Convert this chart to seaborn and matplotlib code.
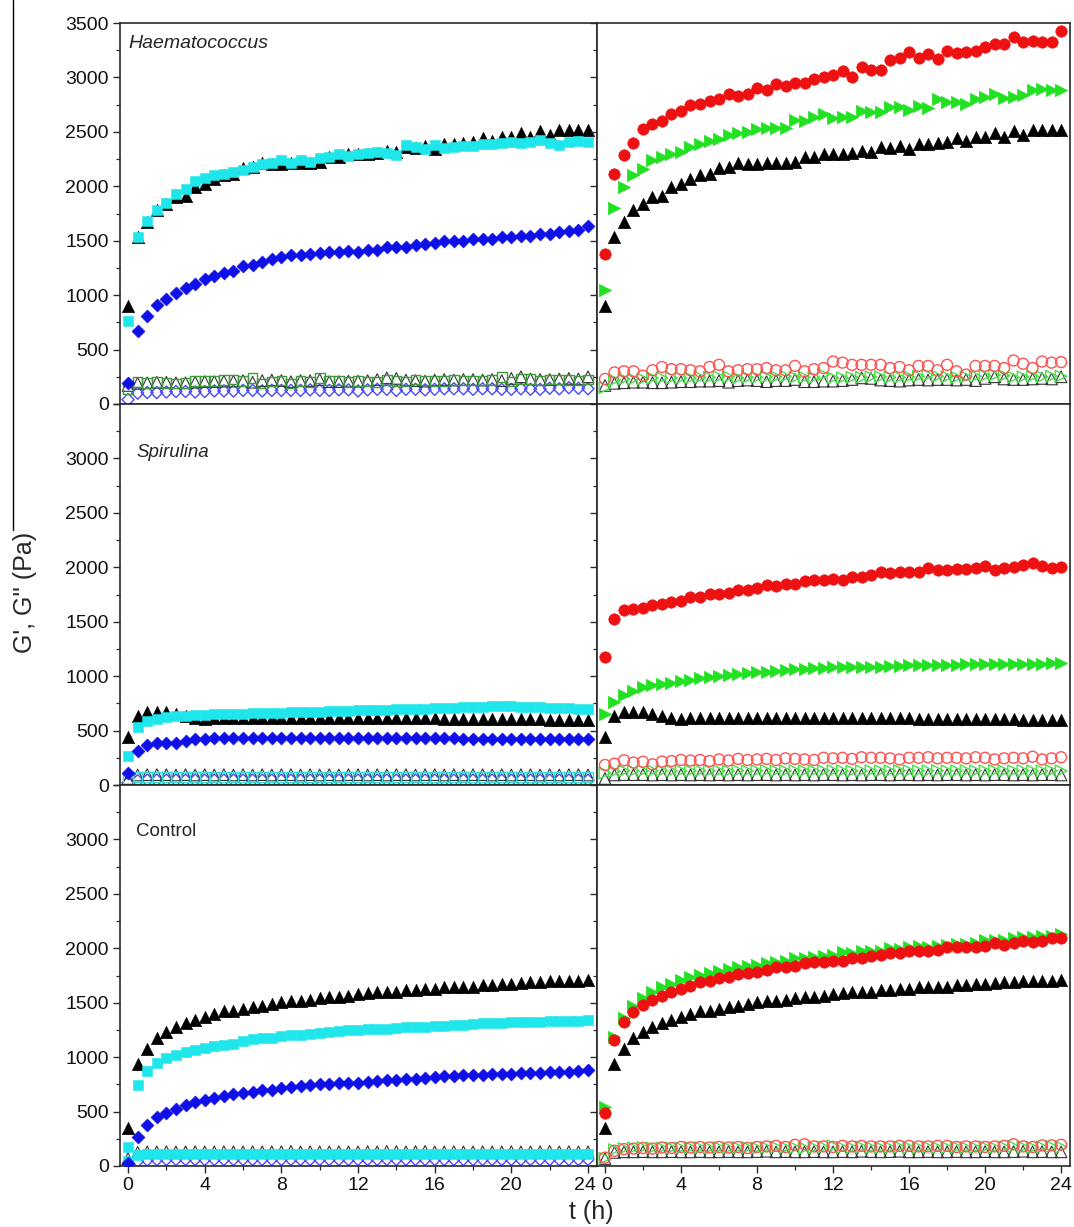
import matplotlib
matplotlib.use("Agg")
import numpy as np
import pandas as pd
import seaborn as sns
import matplotlib.pyplot as plt
from matplotlib.ticker import MultipleLocator
from matplotlib.lines import Line2D
from matplotlib.transforms import ScaledTranslation

# ---------------- data ----------------
t_h = [0, 0.5, 1, 1.5, 2, 2.5, 3, 3.5, 4, 4.5, 5, 5.5, 6, 6.5, 7, 7.5, 8, 8.5, 9, 9.5,
       10, 10.5, 11, 11.5, 12, 12.5, 13, 13.5, 14, 14.5, 15, 15.5, 16, 16.5, 17, 17.5,
       18, 18.5, 19, 19.5, 20, 20.5, 21, 21.5, 22, 22.5, 23, 23.5, 24]

x_ticks = [0, 4, 8, 12, 16, 20, 24]
panel_labels = ["Haematococcus", "Spirulina", "Control"]

# Haematococcus row
haem_black_Gp = [900, 1530, 1670, 1780, 1840, 1900, 1915, 1990, 2025, 2065,
                 2100, 2115, 2165, 2180, 2210, 2205, 2205, 2215, 2215, 2215,
                 2220, 2270, 2270, 2300, 2295, 2295, 2310, 2320, 2315, 2360,
                 2355, 2370, 2345, 2390, 2385, 2395, 2405, 2440, 2420, 2450,
                 2450, 2485, 2455, 2505, 2470, 2515, 2520, 2515, 2515]
haem_black_Gpp = [170, 190, 195, 200, 200, 195, 195, 200, 205, 205,
                  210, 210, 215, 200, 215, 220, 215, 205, 215, 215,
                  225, 205, 205, 210, 210, 215, 225, 240, 235, 220,
                  215, 210, 220, 225, 220, 225, 225, 220, 225, 215,
                  235, 250, 230, 225, 225, 230, 235, 230, 250]
haem_cyan_Gp = [758, 1532, 1679, 1784, 1845, 1931, 1971, 2048, 2079, 2106,
                2115, 2130, 2152, 2176, 2201, 2213, 2245, 2213, 2238, 2220,
                2263, 2269, 2300, 2278, 2300, 2305, 2315, 2310, 2284, 2376,
                2360, 2346, 2376, 2350, 2361, 2368, 2368, 2385, 2391, 2395,
                2407, 2400, 2407, 2422, 2400, 2382, 2405, 2420, 2407]
haem_cyan_Gpp = [140, 200, 195, 200, 195, 190, 195, 210, 210, 210,
                 220, 225, 210, 240, 190, 205, 215, 190, 210, 200,
                 240, 215, 215, 200, 210, 205, 200, 220, 210, 205,
                 225, 215, 210, 210, 220, 215, 215, 215, 220, 250,
                 205, 230, 230, 215, 225, 225, 220, 215, 225]
haem_blue_Gp = [196, 672, 810, 909, 964, 1022, 1065, 1102, 1145, 1176,
                1200, 1225, 1268, 1280, 1302, 1333, 1348, 1369, 1369, 1379,
                1388, 1400, 1400, 1409, 1400, 1415, 1415, 1440, 1440, 1446,
                1461, 1471, 1476, 1501, 1495, 1495, 1517, 1520, 1517, 1532,
                1532, 1547, 1547, 1563, 1566, 1578, 1585, 1600, 1639]
haem_blue_Gpp = [40, 100, 105, 105, 110, 115, 115, 110, 115, 120,
                 120, 120, 125, 125, 120, 125, 125, 125, 125, 130,
                 125, 125, 130, 130, 120, 130, 135, 135, 125, 135,
                 135, 130, 135, 140, 140, 140, 135, 140, 140, 135,
                 135, 140, 135, 135, 145, 140, 150, 145, 140]
haem_red_Gp = [1380, 2110, 2290, 2400, 2530, 2570, 2600, 2665, 2690, 2750,
               2760, 2780, 2800, 2850, 2830, 2850, 2900, 2885, 2940, 2925,
               2945, 2950, 2990, 3000, 3020, 3060, 3000, 3100, 3070, 3065,
               3160, 3175, 3230, 3180, 3215, 3170, 3245, 3225, 3230, 3245,
               3280, 3310, 3310, 3370, 3325, 3335, 3325, 3330, 3430]
haem_red_Gpp = [230, 290, 300, 300, 260, 310, 340, 320, 320, 310,
                300, 340, 360, 300, 310, 320, 320, 330, 310, 310,
                350, 300, 320, 330, 390, 380, 360, 360, 360, 360,
                330, 340, 310, 350, 350, 310, 360, 300, 270, 350,
                350, 350, 330, 400, 370, 330, 390, 380, 385]
haem_green_Gp = [1050, 1805, 1990, 2100, 2155, 2245, 2265, 2300, 2315, 2360,
                 2385, 2420, 2430, 2470, 2485, 2495, 2530, 2535, 2535, 2540,
                 2605, 2600, 2635, 2660, 2630, 2635, 2640, 2690, 2685, 2680,
                 2725, 2725, 2700, 2735, 2715, 2800, 2775, 2770, 2755, 2800,
                 2820, 2845, 2815, 2820, 2835, 2885, 2890, 2885, 2885]
haem_green_Gpp = [150, 220, 230, 230, 230, 240, 240, 240, 240, 240,
                  245, 245, 250, 250, 240, 245, 245, 250, 250, 255,
                  245, 245, 245, 270, 240, 240, 245, 245, 250, 250,
                  245, 245, 250, 255, 265, 255, 250, 245, 250, 255,
                  260, 265, 260, 245, 250, 255, 250, 255, 255]

# Spirulina row
spir_black_Gp = [445, 630, 675, 675, 675, 655, 630, 615, 610, 612,
                 615, 620, 620, 620, 615, 615, 615, 615, 620, 620,
                 615, 615, 615, 620, 615, 615, 615, 615, 615, 612,
                 612, 612, 612, 610, 610, 610, 608, 608, 605, 605,
                 605, 605, 605, 603, 600, 600, 600, 598, 598]
spir_black_Gpp = [60, 92, 95, 95, 95, 92, 95, 92, 95, 92,
                  95, 92, 95, 92, 95, 92, 95, 95, 92, 95,
                  92, 95, 92, 95, 95, 92, 95, 92, 95, 95,
                  92, 95, 95, 92, 95, 92, 95, 95, 92, 95,
                  92, 95, 95, 92, 95, 92, 95, 95, 92]
spir_cyan_Gp = [270, 530, 585, 605, 625, 630, 635, 640, 645, 648,
                650, 652, 655, 658, 660, 662, 665, 668, 670, 672,
                675, 677, 680, 682, 685, 688, 690, 693, 695, 698,
                700, 702, 705, 707, 710, 712, 715, 718, 722, 725,
                722, 718, 715, 712, 708, 705, 703, 701, 700]
spir_cyan_Gpp = [45, 72, 75, 75, 76, 75, 76, 75, 76, 75,
                 76, 75, 76, 75, 76, 75, 76, 75, 76, 75,
                 76, 75, 76, 75, 76, 75, 76, 75, 76, 75,
                 76, 75, 76, 75, 76, 75, 76, 75, 76, 75,
                 76, 75, 76, 75, 76, 75, 76, 75, 76]
spir_blue_Gp = [110, 315, 370, 390, 390, 390, 405, 420, 425, 428,
                430, 432, 432, 432, 432, 432, 432, 432, 432, 432,
                430, 430, 430, 430, 430, 430, 430, 430, 430, 430,
                428, 428, 428, 428, 428, 425, 425, 425, 425, 422,
                422, 420, 420, 420, 418, 418, 418, 418, 418]
spir_blue_Gpp = [20, 40, 45, 45, 45, 45, 45, 45, 45, 45,
                 45, 45, 45, 45, 45, 45, 45, 45, 45, 45,
                 45, 45, 45, 45, 45, 45, 45, 45, 45, 45,
                 45, 45, 45, 45, 45, 45, 45, 45, 45, 45,
                 45, 45, 45, 45, 45, 45, 45, 45, 45]
spir_red_Gp = [1179, 1526, 1612, 1621, 1624, 1652, 1664, 1677, 1692, 1727,
               1724, 1752, 1758, 1761, 1789, 1789, 1807, 1840, 1831, 1849,
               1849, 1870, 1879, 1880, 1894, 1885, 1910, 1910, 1931, 1953,
               1950, 1955, 1955, 1956, 1989, 1971, 1975, 1983, 1980, 1995,
               2008, 1971, 1993, 2001, 2023, 2038, 2014, 1995, 2001]
spir_red_Gpp = [184, 196, 227, 206, 213, 190, 215, 220, 230, 225,
                230, 220, 235, 225, 240, 230, 235, 240, 230, 245,
                240, 235, 230, 250, 245, 250, 240, 255, 250, 250,
                245, 235, 250, 250, 255, 245, 250, 250, 245, 255,
                250, 235, 245, 250, 245, 260, 235, 245, 255]
spir_green_Gp = [651, 764, 829, 860, 903, 921, 927, 936, 958, 967,
                 982, 995, 1004, 1010, 1019, 1025, 1035, 1040, 1050, 1055,
                 1065, 1065, 1071, 1075, 1080, 1080, 1080, 1083, 1087, 1088,
                 1090, 1096, 1098, 1100, 1102, 1104, 1105, 1106, 1108, 1110,
                 1110, 1112, 1112, 1114, 1115, 1115, 1116, 1117, 1117]
spir_green_Gpp = [110, 125, 130, 128, 130, 132, 130, 128, 130, 130,
                  132, 130, 130, 128, 132, 130, 130, 132, 130, 130,
                  132, 130, 130, 130, 132, 130, 128, 130, 132, 130,
                  130, 132, 130, 130, 130, 132, 130, 130, 132, 130,
                  130, 132, 130, 130, 132, 130, 130, 132, 130]

# Control row
ctrl_black_Gp = [352, 933, 1076, 1174, 1235, 1275, 1315, 1342, 1367, 1398,
                 1422, 1428, 1443, 1458, 1468, 1489, 1504, 1519, 1519, 1529,
                 1541, 1550, 1556, 1565, 1581, 1587, 1596, 1602, 1602, 1617,
                 1620, 1627, 1627, 1641, 1641, 1648, 1648, 1663, 1666, 1672,
                 1672, 1682, 1688, 1688, 1703, 1703, 1703, 1703, 1709]
ctrl_black_Gpp = [68, 125, 130, 130, 132, 130, 130, 132, 130, 130,
                  132, 130, 130, 132, 130, 130, 132, 135, 130, 132,
                  130, 130, 132, 130, 130, 132, 130, 135, 132, 130,
                  132, 135, 130, 130, 132, 130, 130, 132, 130, 130,
                  132, 130, 130, 132, 135, 130, 132, 130, 130]
ctrl_cyan_Gp = [174, 747, 877, 945, 990, 1021, 1046, 1067, 1086, 1104,
                1110, 1123, 1147, 1165, 1174, 1177, 1190, 1199, 1205, 1214,
                1220, 1230, 1239, 1245, 1251, 1257, 1260, 1260, 1269, 1275,
                1275, 1281, 1287, 1287, 1297, 1297, 1306, 1312, 1312, 1312,
                1321, 1321, 1321, 1321, 1336, 1336, 1336, 1336, 1342]
ctrl_cyan_Gpp = [50, 100, 108, 110, 110, 110, 108, 110, 110, 110,
                 108, 110, 110, 110, 108, 110, 110, 110, 108, 110,
                 110, 110, 108, 110, 110, 110, 108, 110, 110, 110,
                 108, 110, 110, 110, 108, 110, 110, 110, 108, 110,
                 110, 110, 108, 110, 110, 110, 108, 110, 110]
ctrl_blue_Gp = [30, 266, 380, 450, 490, 527, 563, 587, 602, 624,
                642, 658, 670, 679, 694, 697, 715, 725, 731, 740,
                749, 755, 761, 765, 765, 774, 780, 786, 788, 802,
                802, 811, 817, 823, 826, 832, 832, 838, 842, 847,
                847, 853, 853, 856, 862, 862, 868, 871, 878]
ctrl_blue_Gpp = [10, 45, 55, 58, 60, 60, 60, 60, 60, 60,
                 60, 60, 60, 60, 60, 60, 60, 60, 60, 60,
                 60, 60, 60, 60, 60, 60, 60, 60, 60, 60,
                 60, 60, 60, 60, 60, 60, 60, 60, 60, 60,
                 60, 60, 60, 60, 60, 60, 60, 60, 60]
ctrl_red_Gp = [486, 1159, 1327, 1412, 1480, 1526, 1565, 1602, 1627, 1651,
               1687, 1697, 1728, 1733, 1764, 1773, 1779, 1801, 1825, 1831,
               1838, 1862, 1871, 1871, 1886, 1886, 1911, 1911, 1932, 1940,
               1953, 1960, 1971, 1971, 1977, 1985, 2008, 2008, 2012, 2015,
               2024, 2051, 2030, 2045, 2063, 2060, 2063, 2094, 2091]
ctrl_red_Gpp = [77, 140, 155, 160, 165, 160, 170, 165, 175, 170,
                175, 170, 175, 170, 175, 165, 175, 180, 185, 175,
                195, 200, 180, 180, 175, 185, 180, 185, 180, 180,
                180, 185, 185, 180, 180, 185, 185, 175, 180, 180,
                175, 180, 185, 200, 180, 175, 190, 190, 195]
ctrl_green_Gp = [541, 1183, 1361, 1474, 1541, 1602, 1641, 1672, 1709, 1733,
                 1758, 1770, 1795, 1810, 1825, 1834, 1850, 1862, 1877, 1880,
                 1907, 1910, 1923, 1932, 1938, 1962, 1956, 1971, 1977, 1971,
                 2000, 1995, 2010, 2018, 2015, 2024, 2033, 2039, 2039, 2045,
                 2079, 2075, 2079, 2094, 2106, 2106, 2115, 2115, 2131]
ctrl_green_Gpp = [70, 150, 160, 165, 170, 165, 165, 165, 165, 170,
                  170, 165, 170, 165, 170, 170, 165, 170, 175, 170,
                  170, 165, 170, 175, 185, 170, 170, 175, 170, 170,
                  170, 175, 170, 170, 175, 170, 170, 175, 170, 170,
                  175, 170, 175, 180, 175, 170, 175, 180, 175]

# ---------------- style ----------------
sns.set_theme(style="ticks")
plt.rcParams["font.family"] = ["Liberation Sans", "DejaVu Sans"]

C_BLACK = "#000000"
C_BLACK_O = "#333333"
C_CYAN = "#1ee6ea"
C_CYAN_O = "#33dddd"
C_BLUE = "#0f0fe8"
C_BLUE_O = "#4a4aff"
C_RED = "#ee1111"
C_RED_O = "#ff5252"
C_GREEN = "#22e022"
C_GREEN_O = "#48e048"
C_DKGREEN_O = "#3d9a3d"
C_SPINE = "#2a2a2a"

fig = plt.figure(figsize=(10.74, 12.27), dpi=100)
L = 120 / 1074
M = 597 / 1074
R = 1070 / 1074
TOP = 1 - 23 / 1227
BOT = 1 - 1166 / 1227
H = (TOP - BOT) / 3

axes = []
for r in range(3):
    row = [fig.add_axes([L, TOP - (r + 1) * H, M - L, H]),
           fig.add_axes([M, TOP - (r + 1) * H, R - M, H])]
    axes.append(row)


def pts(ax, y, marker, color, s, filled=True, lw=1.0, z=3):
    if filled:
        sns.scatterplot(x=t_h, y=y, marker=marker, color=color, s=s,
                        edgecolor=color, linewidth=0.4, ax=ax, legend=False,
                        zorder=z)
    else:
        sns.scatterplot(x=t_h, y=y, marker=marker, s=s, facecolor="none",
                        edgecolor=color, linewidth=lw, ax=ax, legend=False,
                        zorder=z)


left_sets = [
    (haem_black_Gp, haem_black_Gpp, haem_cyan_Gp, haem_cyan_Gpp, C_DKGREEN_O, False,
     haem_blue_Gp, haem_blue_Gpp),
    (spir_black_Gp, spir_black_Gpp, spir_cyan_Gp, spir_cyan_Gpp, C_CYAN_O, False,
     spir_blue_Gp, spir_blue_Gpp),
    (ctrl_black_Gp, ctrl_black_Gpp, ctrl_cyan_Gp, ctrl_cyan_Gpp, C_CYAN, True,
     ctrl_blue_Gp, ctrl_blue_Gpp),
]
right_sets = [
    (haem_black_Gp, haem_black_Gpp, haem_green_Gp, haem_green_Gpp, haem_red_Gp, haem_red_Gpp),
    (spir_black_Gp, spir_black_Gpp, spir_green_Gp, spir_green_Gpp, spir_red_Gp, spir_red_Gpp),
    (ctrl_black_Gp, ctrl_black_Gpp, ctrl_green_Gp, ctrl_green_Gpp, ctrl_red_Gp, ctrl_red_Gpp),
]

for r in range(3):
    bk, bko, cy, cyo, cyo_col, cyo_filled, bl, blo = left_sets[r]
    ax = axes[r][0]
    pts(ax, blo, "D", C_BLUE_O, 38, filled=False, z=2)
    pts(ax, bko, "^", C_BLACK_O, 70, filled=False, lw=0.8, z=2)
    if cyo_filled:
        pts(ax, cyo, "s", cyo_col, 42, filled=True, z=2)
    else:
        pts(ax, cyo, "s", cyo_col, 48, filled=False, z=2)
    pts(ax, bk, "^", C_BLACK, 80)
    pts(ax, cy, "s", C_CYAN, 52)
    pts(ax, bl, "D", C_BLUE, 44)

    bk, bko, gr, gro, rd, rdo = right_sets[r]
    ax = axes[r][1]
    pts(ax, bko, "^", C_BLACK_O, 70, filled=False, lw=0.8, z=2)
    pts(ax, gro, ">", C_GREEN_O, 70, filled=False, z=2)
    pts(ax, rdo, "o", C_RED_O, 62, filled=False, z=2)
    pts(ax, bk, "^", C_BLACK, 80)
    pts(ax, gr, ">", C_GREEN, 80)
    pts(ax, rd, "o", C_RED, 68)

for r in range(3):
    for c in range(2):
        ax = axes[r][c]
        ax.set_xlim(-0.42, 24.47)
        ax.set_ylim(0, 3500)
        ax.set_xlabel("")
        ax.set_ylabel("")
        ax.set_facecolor("white")
        for sp in ax.spines.values():
            sp.set_visible(True)
            sp.set_color(C_SPINE)
            sp.set_linewidth(1.2)
        ax.set_xticks(x_ticks)
        ax.xaxis.set_minor_locator(MultipleLocator(2))
        ax.tick_params(axis="x", which="major", direction="out", length=5,
                       width=1.0, color=C_SPINE, labelsize=14, labelcolor="#111111",
                       labelbottom=(r == 2), pad=3)
        ax.tick_params(axis="x", which="minor", direction="out", length=3,
                       width=0.9, color=C_SPINE, bottom=True)
        ax.set_yticks([0, 500, 1000, 1500, 2000, 2500, 3000, 3500])
        ax.yaxis.set_minor_locator(MultipleLocator(250))
        ax.tick_params(axis="y", which="major", direction="out", length=5,
                       width=1.0, color=C_SPINE, labelsize=14, labelcolor="#111111",
                       labelleft=(c == 0), pad=3)
        ax.tick_params(axis="y", which="minor", direction="out", length=3,
                       width=0.9, color=C_SPINE, left=True)
        if c == 0 and r > 0:
            labels = ["0", "500", "1000", "1500", "2000", "2500", "3000", ""]
            ax.set_yticklabels(labels)

# keep the touching "24" / "0" labels at the panel join from overlapping
fig.canvas.draw()
lab_24 = axes[2][0].get_xticklabels()[-1]
lab_24.set_transform(lab_24.get_transform() +
                     ScaledTranslation(-3 / 100, 0, fig.dpi_scale_trans))
lab_0 = axes[2][1].get_xticklabels()[0]
lab_0.set_transform(lab_0.get_transform() +
                    ScaledTranslation(2 / 100, 0, fig.dpi_scale_trans))

axes[0][0].text(0.017, 0.945, panel_labels[0], transform=axes[0][0].transAxes,
                fontsize=14, style="italic", va="center", ha="left")
axes[1][0].text(0.034, 0.872, panel_labels[1], transform=axes[1][0].transAxes,
                fontsize=13.5, style="italic", va="center", ha="left")
axes[2][0].text(0.034, 0.877, panel_labels[2], transform=axes[2][0].transAxes,
                fontsize=13.5, va="center", ha="left")

fig.text(0.023, 0.517, "G', G'' (Pa)", rotation=90, fontsize=18,
         va="center", ha="center")
fig.text(0.551, 0.012, "t (h)", fontsize=18, va="center", ha="center")

fig.add_artist(Line2D([13 / 1074, 13 / 1074], [1.0, 1 - 530 / 1227],
                      color="black", linewidth=1.0))

fig.savefig("out.png", dpi=100, facecolor="white")
